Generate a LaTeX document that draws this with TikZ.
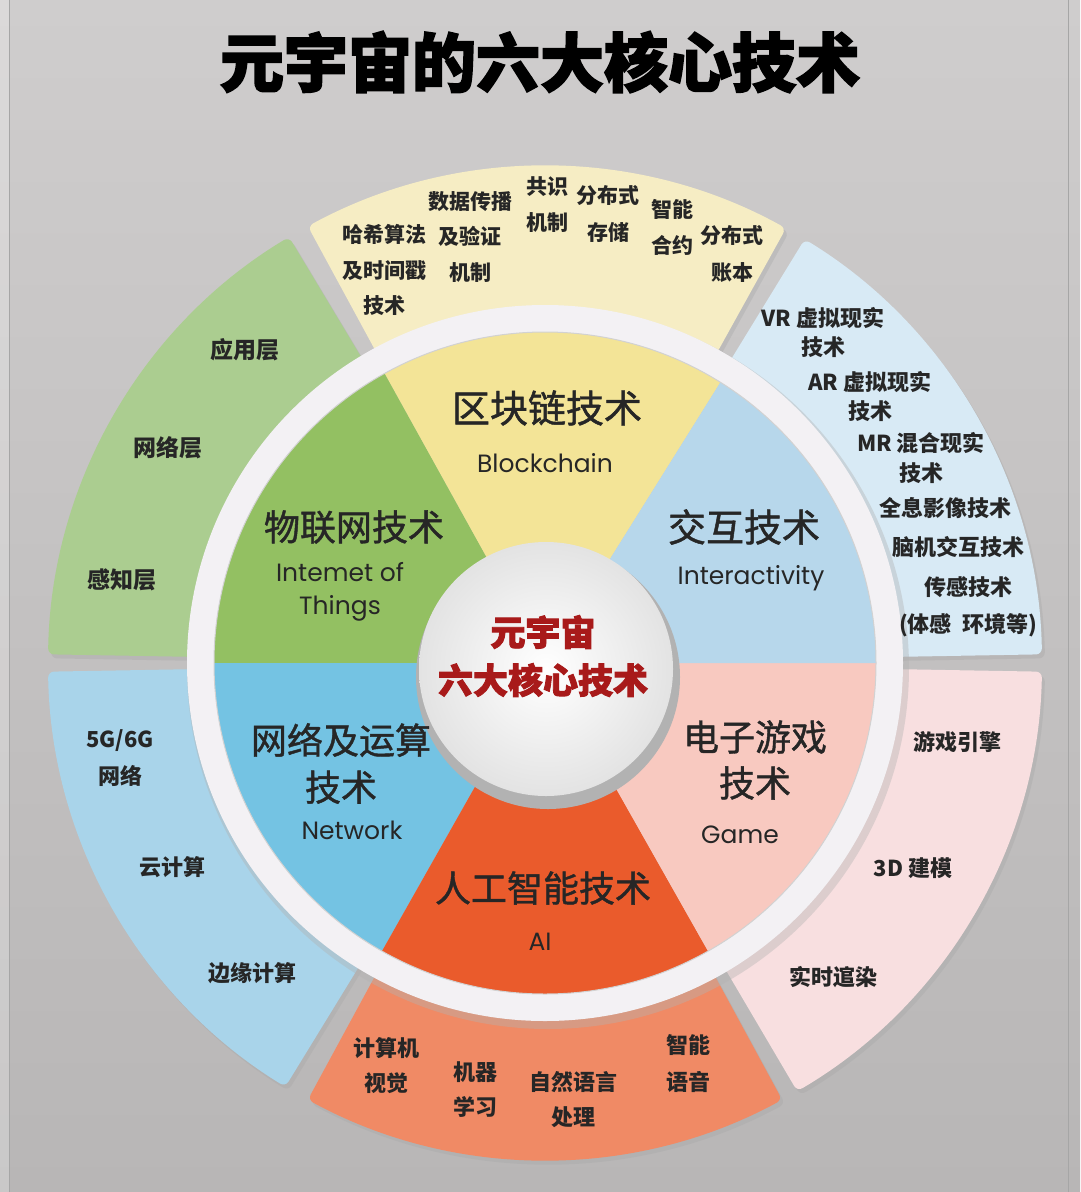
\documentclass[tikz,border=0pt]{standalone}
\usepackage{fontspec}
\newfontfamily\cjk{Noto Sans CJK SC}
\newfontfamily\cjkmed[FakeBold=1.2]{Noto Sans CJK SC}
\newfontfamily\cjkheavy[FakeBold=2.5]{Noto Sans CJK SC}
\newfontfamily\en{Poppins}
\definecolor{bgtop}{HTML}{CFCDCD}
\definecolor{bgbot}{HTML}{B8B6B6}
\definecolor{txt}{HTML}{262626}
\definecolor{oyel}{HTML}{F6EDC4}
\definecolor{ogrn}{HTML}{ABCD90}
\definecolor{olbl}{HTML}{D8EAF5}
\definecolor{oblu}{HTML}{A9D4EA}
\definecolor{opnk}{HTML}{F8DFE0}
\definecolor{oorg}{HTML}{F08A65}
\definecolor{iyel}{HTML}{F3E497}
\definecolor{igrn}{HTML}{93C062}
\definecolor{ilbl}{HTML}{B7D7EB}
\definecolor{iblu}{HTML}{74C3E3}
\definecolor{ipnk}{HTML}{F8C9C0}
\definecolor{iorg}{HTML}{EA5B2C}
\definecolor{ringc}{HTML}{F3F1F4}
\definecolor{cred}{HTML}{A81A1A}
\newcommand\outsec[3]{%
  \fill[gray!70, opacity=.35, rounded corners=6pt, shift={(548,667)}] (-#2:345) -- (-#2:497) arc[start angle=-#2, end angle=-#3, radius=497] -- (-#3:345) arc[start angle=-#3, end angle=-#2, radius=345] -- cycle;
  \fill[#1, rounded corners=6pt, shift={(545,663)}] (-#2:345) -- (-#2:497) arc[start angle=-#2, end angle=-#3, radius=497] -- (-#3:345) arc[start angle=-#3, end angle=-#2, radius=345] -- cycle;}
\newcommand\insec[3]{%
  \fill[#1, shift={(545,663)}] (0,0) -- (-#2:331) arc[start angle=-#2, end angle=-#3, radius=331] -- cycle;}
\tikzset{
  olab/.style={font=\cjk\bfseries\fontsize{22}{36}\selectfont, text=txt, align=center, inner sep=0pt},
  ylab/.style={olab, font=\cjk\bfseries\fontsize{21}{35.5}\selectfont},
  ilab/.style={font=\cjkmed\fontsize{36}{46}\selectfont, text=txt, align=center, inner sep=0pt},
  elab/.style={font=\en\fontsize{25}{33}\selectfont, text=txt, align=center, inner sep=0pt}
}
\begin{document}
\begin{tikzpicture}[x=1pt,y=-1pt]
\useasboundingbox (0,0) rectangle (1080,1192);
\shade[top color=bgtop, bottom color=bgbot] (0,0) rectangle (1080,1192);
\fill[white, opacity=.25] (0,0) rectangle (9,1192);
\draw[gray!70, line width=1pt] (9,0) -- (9,1192);
\draw[gray!70, line width=1pt] (1068,0) -- (1068,1192);
% title
\node[font=\cjkheavy\bfseries\fontsize{64}{64}\selectfont, text=black, inner sep=0pt] (title) at (540,62) {元宇宙的六大核心技术};
% outer ring sectors
\outsec{oyel}{61}{118.5}
\outsec{ogrn}{121}{179}
\outsec{oblu}{181}{238.5}
\outsec{oorg}{241.5}{298.5}
\outsec{opnk}{300.5}{359}
\outsec{olbl}{1}{58.5}
% white ring
\fill[gray!60, opacity=.4, even odd rule] (548,668) circle[radius=361] (548,668) circle[radius=331];
\fill[ringc, even odd rule] (545,663) circle[radius=358] (545,663) circle[radius=331];
% inner sectors
\insec{iyel}{58}{119}
\insec{igrn}{119}{180}
\insec{iblu}{180}{240.5}
\insec{iorg}{240.5}{299.5}
\insec{ipnk}{299.5}{360}
\insec{ilbl}{0}{58}
\draw[gray!35, line width=1pt] (545,663) circle[radius=331];
% center button
\fill[gray!60] (548,677) circle[radius=132];
\shade[inner color=white, outer color=gray!22] (546,669) circle[radius=127];
% outer labels: blockchain
\node[ylab] (hash) at (384,270) {哈希算法\\及时间戳\\技术};
\node[ylab] (prop) at (470,237) {数据传播\\及验证\\机制};
\node[ylab] (cons) at (547,204.5) {共识\\机制};
\node[ylab, font=\cjk\bfseries\fontsize{21}{37}\selectfont] (dstore) at (608,213.5) {分布式\\存储};
\node[ylab] (smart) at (672,227.5) {智能\\合约};
\node[ylab, font=\cjk\bfseries\fontsize{21}{37}\selectfont] (ledger) at (732,253.5) {分布式\\账本};
% interactivity
\node[olab, font=\cjk\bfseries\fontsize{22}{29.5}\selectfont] (vr) at (823,332.5) {VR 虚拟现实\\技术};
\node[olab, font=\cjk\bfseries\fontsize{22}{29.5}\selectfont] (ar) at (870,396.5) {AR 虚拟现实\\技术};
\node[olab, font=\cjk\bfseries\fontsize{22}{30}\selectfont] (mr) at (921,458) {MR 混合现实\\技术};
\node[olab] (holo) at (945,508) {全息影像技术};
\node[olab] (bci) at (958,547) {脑机交互技术};
\node[olab, font=\cjk\bfseries\fontsize{22}{37}\selectfont] (sense) at (968,606.5) {传感技术\\(体感\ \ 环境等)};
% iot
\node[olab, font=\cjk\bfseries\fontsize{23}{36}\selectfont] (app) at (245,350) {应用层};
\node[olab, font=\cjk\bfseries\fontsize{23}{36}\selectfont] (netl) at (168,448) {网络层};
\node[olab, font=\cjk\bfseries\fontsize{23}{36}\selectfont] (perc) at (122,580) {感知层};
% network
\node[olab, font=\cjk\bfseries\fontsize{22}{37}\selectfont] (g5) at (120,758.5) {5G/6G\\网络};
\node[olab] (cloud) at (172,867) {云计算};
\node[olab] (edge) at (252,973) {边缘计算};
% game
\node[olab] (engine) at (957,742) {游戏引擎};
\node[olab] (model) at (913,868) {3D 建模};
\node[olab] (render) at (833,977) {实时逭染};
% ai
\node[olab, font=\cjk\bfseries\fontsize{22}{35}\selectfont] (cv) at (386,1065.5) {计算机\\视觉};
\node[olab, font=\cjk\bfseries\fontsize{22}{35}\selectfont] (ml) at (475,1089.5) {机器\\学习};
\node[olab, font=\cjk\bfseries\fontsize{22}{35}\selectfont] (nlp) at (573,1099.5) {自然语言\\处理};
\node[olab, font=\cjk\bfseries\fontsize{22}{37}\selectfont] (voice) at (688,1063.5) {智能\\语音};
% inner labels
\node[ilab, font=\cjkmed\fontsize{38}{46}\selectfont] (bc) at (547,408) {区块链技术};
\node[elab] (bcen) at (545,463) {Blockchain};
\node[ilab] (iot) at (354,527) {物联网技术};
\node[elab] (iote) at (340,591.5) {Intemet of\\Things};
\node[ilab, font=\cjkmed\fontsize{38}{46}\selectfont] (inter) at (744,527) {交互技术};
\node[elab] (intere) at (751,578) {Interactivity};
\node[ilab, font=\cjkmed\fontsize{36}{47}\selectfont] (net) at (341,763.5) {网络及运算\\技术};
\node[elab] (nete) at (352,830) {Network};
\node[ilab] (ai) at (543,888) {人工智能技术};
\node[elab] (aie) at (540,942) {AI};
\node[ilab, font=\cjkmed\fontsize{36}{46}\selectfont] (game) at (755,760) {电子游戏\\技术};
\node[elab] (gamee) at (740,835) {Game};
% center text
\node[font=\cjkheavy\bfseries\fontsize{35}{48}\selectfont, text=cred, align=center, inner sep=0pt] (core) at (543,656) {元宇宙\\六大核心技术};
\end{tikzpicture}
\end{document}
